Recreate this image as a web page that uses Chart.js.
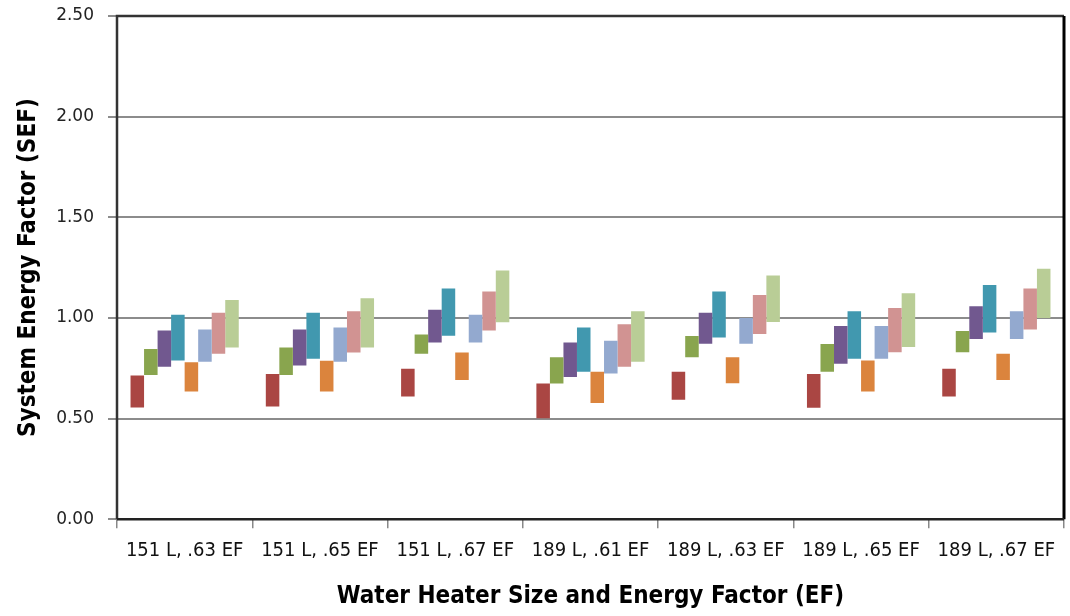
<!DOCTYPE html>
<html>
<head>
<meta charset="utf-8">
<script src="https://cdn.jsdelivr.net/npm/chart.js@4/dist/chart.umd.min.js"></script>
<style>
html,body{margin:0;padding:0;background:#fff;}
#wrap{width:1070px;height:616px;position:relative;}
</style>
</head>
<body>
<div id="wrap"><canvas id="c" width="1070" height="616"></canvas></div>
<script>
const categories = ["151 L, .63 EF","151 L, .65 EF","151 L, .67 EF","189 L, .61 EF","189 L, .63 EF","189 L, .65 EF","189 L, .67 EF"];
const yTicks = [0, 0.5, 1.0, 1.5, 2.0, 2.5];
// floating bar ranges [low, high] per category
const seriesRed        = [[0.555,0.714],[0.560,0.722],[0.609,0.747],[0.502,0.674],[0.594,0.732],[0.554,0.722],[0.609,0.747]];
const seriesGreen      = [[0.717,0.845],[0.717,0.853],[0.822,0.918],[0.674,0.805],[0.805,0.910],[0.732,0.870],[0.830,0.935]];
const seriesPurple     = [[0.757,0.937],[0.763,0.943],[0.878,1.041],[0.707,0.878],[0.872,1.026],[0.772,0.960],[0.895,1.058]];
const seriesTeal       = [[0.788,1.016],[0.797,1.026],[0.912,1.146],[0.732,0.952],[0.903,1.131],[0.797,1.033],[0.927,1.163]];
const seriesOrange     = [[0.634,0.780],[0.634,0.787],[0.692,0.828],[0.577,0.732],[0.675,0.805],[0.634,0.788],[0.692,0.822]];
const seriesLightBlue  = [[0.782,0.943],[0.782,0.952],[0.878,1.016],[0.724,0.887],[0.872,0.999],[0.797,0.960],[0.895,1.033]];
const seriesPink       = [[0.822,1.026],[0.828,1.033],[0.937,1.131],[0.757,0.968],[0.920,1.114],[0.830,1.049],[0.943,1.146]];
const seriesLightGreen = [[0.853,1.089],[0.853,1.098],[0.978,1.236],[0.782,1.033],[0.980,1.211],[0.855,1.123],[1.000,1.244]];

const colors = ["#AA4643","#89A54E","#71588F","#4198AF","#DB843D","#93A9CF","#D19392","#B9CD96"];
const allSeries = [seriesRed,seriesGreen,seriesPurple,seriesTeal,seriesOrange,seriesLightBlue,seriesPink,seriesLightGreen];

const boxPlugin = {
  id:'box',
  afterDraw(chart){
    const a = chart.chartArea, ctx = chart.ctx;
    ctx.save();
    ctx.strokeStyle = '#333';
    ctx.lineWidth = 2.5;
    ctx.beginPath();
    ctx.moveTo(a.left, a.bottom);
    ctx.lineTo(a.left, a.top);
    ctx.lineTo(a.right, a.top);
    ctx.stroke();
    ctx.strokeStyle = '#000';
    ctx.lineWidth = 3;
    ctx.beginPath();
    ctx.moveTo(a.right, a.top);
    ctx.lineTo(a.right, a.bottom);
    ctx.stroke();
    ctx.strokeStyle = '#222';
    ctx.lineWidth = 2.5;
    ctx.beginPath();
    ctx.moveTo(a.left, a.bottom);
    ctx.lineTo(a.right, a.bottom);
    ctx.stroke();
    ctx.restore();
  }
};

const narrow = "'DejaVu Sans Condensed', 'Liberation Sans Narrow', 'DejaVu Sans', sans-serif";

new Chart(document.getElementById('c'), {
  type:'bar',
  data:{
    labels: categories,
    datasets: allSeries.map((s,i)=>({
      label:'S'+(i+1),
      data:s,
      backgroundColor:colors[i],
      borderWidth:0,
      borderSkipped:false,
      categoryPercentage:0.8,
      barPercentage:1.0
    }))
  },
  options:{
    responsive:false,
    animation:false,
    layout:{padding:{top:0,right:6,left:0,bottom:5}},
    plugins:{legend:{display:false},tooltip:{enabled:false}},
    scales:{
      x:{
        offset:true,
        grid:{offset:true,drawOnChartArea:false,drawTicks:true,tickLength:9,color:'#888',lineWidth:1.5},
        border:{display:false},
        ticks:{color:'#111',font:{family:narrow,size:20},padding:11,maxRotation:0},
        title:{display:true,text:'Water Heater Size and Energy Factor (EF)',color:'#000',font:{family:narrow,size:24,weight:'bold'},padding:{top:8,bottom:0}}
      },
      y:{
        min:0,max:2.5,
        afterBuildTicks(axis){ axis.ticks = yTicks.map(v=>({value:v})); },
        grid:{color:'#8c8c8c',lineWidth:2,tickLength:9,drawTicks:true},
        border:{display:false},
        ticks:{color:'#222',font:{family:'DejaVu Sans',size:17},padding:14,callback:v=>Number(v).toFixed(2)},
        title:{display:true,text:'System Energy Factor (SEF)',color:'#000',font:{family:narrow,size:24,weight:'bold'},padding:{top:14,bottom:0}},
        afterFit(axis){ axis.width = 117; axis.paddingTop = 16; axis.paddingBottom = 0; }
      }
    }
  },
  plugins:[boxPlugin]
});
</script>
</body>
</html>
